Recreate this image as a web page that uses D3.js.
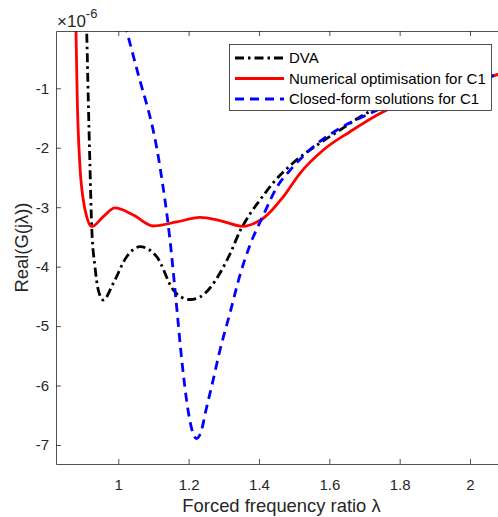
<!DOCTYPE html>
<html>
<head>
<meta charset="utf-8">
<script src="https://cdn.jsdelivr.net/npm/d3@7"></script>
<style>
	html, body { margin: 0; padding: 0; background: #fff; }
	svg { display: block; font-family: "Liberation Sans", Arial, Helvetica, sans-serif; }
</style>
</head>
<body>
<div class="chart"></div>
<script>
// values (y is in units of 1e-6)
const dvaLambda = [0.906, 0.9102, 0.9147, 0.9195, 0.9244, 0.9337, 0.9431, 0.9574, 0.9858, 1.0239, 1.0617, 1.1092, 1.1564, 1.178, 1.2039, 1.2323, 1.2607, 1.2892, 1.3176, 1.3461, 1.3745, 1.4029, 1.4399, 1.4968, 1.5736, 1.6305, 1.7072, 1.80, 1.90, 2.00, 2.065, 2.105]
const dvaValue = [0.9, -0.036, -1.197, -2.319, -3.328, -4.001, -4.393, -4.561, -4.280, -3.833, -3.664, -3.833, -4.393, -4.51, -4.553, -4.510, -4.359, -4.107, -3.787, -3.400, -3.114, -2.879, -2.593, -2.257, -1.920, -1.701, -1.415, -1.19, -1.00, -0.87, -0.79, -0.74]

const numLambda = [0.8769, 0.8797, 0.8834, 0.8911, 0.9005, 0.9102, 0.9244, 0.9574, 0.9906, 1.0426, 1.0995, 1.166, 1.2323, 1.289, 1.3546, 1.3887, 1.4123, 1.4692, 1.5166, 1.5829, 1.6588, 1.7535, 1.85, 1.95, 2.00, 2.065, 2.105]
const numValue = [0.82, -0.036, -1.197, -2.319, -2.879, -3.160, -3.328, -3.160, -3.013, -3.131, -3.316, -3.249, -3.170, -3.224, -3.321, -3.265, -3.186, -2.823, -2.430, -2.038, -1.730, -1.394, -1.17, -0.98, -0.90, -0.79, -0.73]

const cfLambda = [0.985, 1.0239, 1.0503, 1.1186, 1.1470, 1.1641, 1.1811, 1.1982, 1.2096, 1.2223, 1.2351, 1.2494, 1.2664, 1.2892, 1.3176, 1.3461, 1.3745, 1.4114, 1.4512, 1.4968, 1.5536, 1.6219, 1.7242, 1.80, 1.90, 2.00, 2.065, 2.105]
const cfValue = [0.822, -0.036, -0.625, -2.324, -3.552, -4.561, -5.604, -6.411, -6.748, -6.891, -6.781, -6.411, -5.991, -5.402, -4.780, -4.140, -3.636, -3.148, -2.660, -2.324, -1.988, -1.701, -1.399, -1.20, -1.00, -0.87, -0.79, -0.74]

const xTicks = [1, 1.2, 1.4, 1.6, 1.8, 2]
const yTicks = [-7, -6, -5, -4, -3, -2, -1]
const legendLabels = ["DVA", "Numerical optimisation for C1", "Closed-form solutions for C1"]

const width = 498
const height = 517
// axes box (the right edge lies just outside the picture)
const boxLeft = 56, boxRight = 507, boxTop = 31, boxBottom = 464
const axisColor = "#262626"

const svg = d3.select(".chart").append("svg")
	.attr("width", width)
	.attr("height", height)

// scales
const x = d3.scaleLinear()
	.domain([0.8229, 2.1052])
	.range([boxLeft, boxRight])
const y = d3.scaleLinear()
	.domain([-7.32, -0.036])
	.range([boxBottom, boxTop])

// clip curves to the axes box
svg.append("clipPath")
	.attr("id", "plot-clip")
	.append("rect")
	.attr("x", boxLeft)
	.attr("y", boxTop)
	.attr("width", boxRight - boxLeft)
	.attr("height", boxBottom - boxTop)

const line = d3.line()
	.x(d => x(d[0]))
	.y(d => y(d[1]))
	.curve(d3.curveMonotoneX)

const series = [
	{ lam: dvaLambda, val: dvaValue, color: "#000", dash: "9,4,2.5,4" },
	{ lam: numLambda, val: numValue, color: "#ff0000", dash: null },
	{ lam: cfLambda, val: cfValue, color: "#0000ff", dash: "9,6" }
]

const plot = svg.append("g").attr("clip-path", "url(#plot-clip)")
plot.selectAll("path")
	.data(series)
	.enter()
	.append("path")
	.attr("d", d => line(d.lam.map((l, i) => [l, d.val[i]])))
	.attr("fill", "none")
	.attr("stroke", d => d.color)
	.attr("stroke-width", 2.8)
	.attr("stroke-dasharray", d => d.dash)

// axes, MATLAB style ticks pointing inwards
const xAxis = svg.append("g")
	.attr("transform", `translate(0,${boxBottom})`)
	.call(d3.axisBottom(x).tickValues(xTicks).tickFormat(d3.format("")).tickSize(-5).tickSizeOuter(0).tickPadding(15))
const xTop = svg.append("g")
	.attr("transform", `translate(0,${boxTop})`)
	.call(d3.axisTop(x).tickValues(xTicks).tickFormat("").tickSize(-5).tickSizeOuter(0))
const yAxis = svg.append("g")
	.attr("transform", `translate(${boxLeft},0)`)
	.call(d3.axisLeft(y).tickValues(yTicks).tickFormat(d3.format("")).tickSize(-5).tickSizeOuter(0).tickPadding(7))
const yRight = svg.append("g")
	.attr("transform", `translate(${boxRight},0)`)
	.call(d3.axisRight(y).tickValues(yTicks).tickFormat("").tickSize(-5).tickSizeOuter(0))

svg.selectAll(".domain, .tick line")
	.attr("stroke", axisColor)
	.attr("stroke-width", 0.8)
svg.selectAll(".tick text")
	.attr("fill", axisColor)
	.attr("font-size", "15px")
	.attr("font-family", "Liberation Sans, Arial, sans-serif")
yAxis.selectAll(".tick text").text(d => "-" + Math.abs(d))

// axis labels
svg.append("text")
	.attr("x", (boxLeft + boxRight) / 2)
	.attr("y", 512)
	.attr("text-anchor", "middle")
	.attr("font-size", "18.4px")
	.attr("fill", axisColor)
	.text("Forced frequency ratio λ")

svg.append("text")
	.attr("transform", `translate(28,${(boxTop + boxBottom) / 2}) rotate(-90)`)
	.attr("text-anchor", "middle")
	.attr("font-size", "18.4px")
	.attr("fill", axisColor)
	.text("Real(G(jλ))")

// exponent label
const expo = svg.append("text")
	.attr("x", 57)
	.attr("y", 27)
	.attr("fill", axisColor)
expo.append("tspan")
	.attr("font-size", "17px")
	.text("×10")
expo.append("tspan")
	.attr("dy", -9)
	.attr("font-size", "13px")
	.text("-6")

// legend
const legend = svg.append("g")
legend.append("rect")
	.attr("x", 229.5)
	.attr("y", 44.5)
	.attr("width", 262)
	.attr("height", 66)
	.attr("fill", "#fff")
	.attr("stroke", axisColor)
	.attr("stroke-width", 0.8)

const rows = legend.selectAll(".row")
	.data(series)
	.enter()
	.append("g")
	.attr("class", "row")
	.attr("transform", (d, i) => `translate(0,${58 + i * 20.5})`)

rows.append("line")
	.attr("x1", 235)
	.attr("x2", 284)
	.attr("stroke", d => d.color)
	.attr("stroke-width", 2.8)
	.attr("stroke-dasharray", d => d.dash)

rows.append("text")
	.attr("x", 289)
	.attr("dy", "0.35em")
	.attr("font-size", "15px")
	.attr("fill", "#000")
	.text((d, i) => legendLabels[i])
</script>
</body>
</html>
